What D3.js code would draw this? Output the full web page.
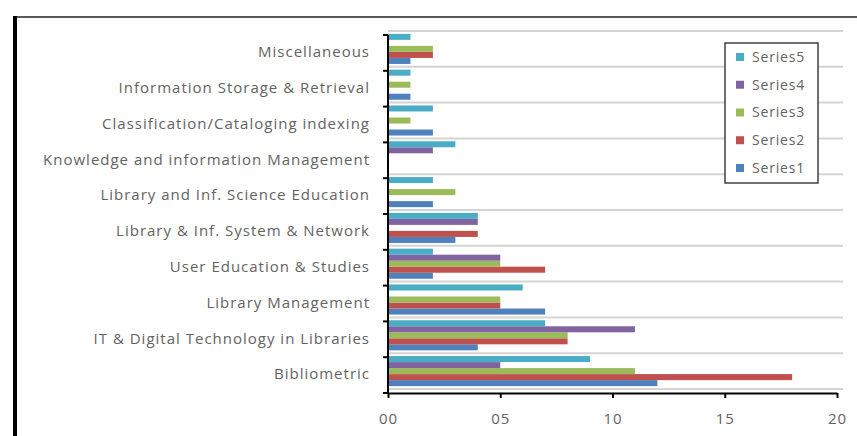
<!DOCTYPE html>
<html><head><meta charset="utf-8">
<script src="https://cdn.jsdelivr.net/npm/d3@7"></script>
<style>
html,body{margin:0;padding:0;background:#fff;}
svg{display:block;}
text{font-family:"Open Sans",sans-serif;}
</style></head>
<body>
<svg id="chart" width="857" height="436"></svg>
<script>
// Categories listed bottom to top
const categories = [
  "Bibliometric",
  "IT & Digital Technology in Libraries",
  "Library Management",
  "User Education & Studies",
  "Library & Inf. System & Network",
  "Library and Inf. Science Education",
  "Knowledge and information Management",
  "Classification/Cataloging indexing",
  "Information Storage & Retrieval",
  "Miscellaneous"
];
const seriesNames = ["Series1","Series2","Series3","Series4","Series5"];
const series1 = [12, 4, 7, 2, 3, 2, 0, 2, 1, 1];
const series2 = [18, 8, 5, 7, 4, 0, 0, 0, 0, 2];
const series3 = [11, 8, 5, 5, 0, 3, 0, 1, 1, 2];
const series4 = [5, 11, 0, 5, 4, 0, 2, 0, 0, 0];
const series5 = [9, 7, 6, 2, 4, 2, 3, 2, 1, 1];
const seriesColors = ["#4F81BD","#C0504D","#9BBB59","#8064A2","#4BACC6"];
const xTicks = [0, 5, 10, 15, 20];
const xTickLabels = ["00","05","10","15","20"];

(function(){
const allSeries = [series1, series2, series3, series4, series5];
const svg = d3.select("#chart");

// outer frame
svg.append("line").attr("x1",14).attr("x2",857).attr("y1",17).attr("y2",17)
  .attr("stroke","#5a5a5a").attr("stroke-width",2);
svg.append("line").attr("x1",15).attr("x2",15).attr("y1",16).attr("y2",436)
  .attr("stroke","#000").attr("stroke-width",4);

const pLeft = 388, pRight = 837, pTop = 31, pBottom = 389, axisOff = 4;

const x = d3.scaleLinear().domain([0,20]).range([pLeft,pRight]);
const y = d3.scaleBand().domain(categories).range([pBottom, pTop]).paddingInner(0.16).paddingOuter(0.08);
const ys = d3.scaleBand().domain(seriesNames.slice().reverse()).range([0, y.bandwidth()]);

const step = y.step();
const bounds = d3.range(categories.length + 1).map(i => pTop + i*step);
svg.append("g").selectAll("line").data(bounds).join("line")
  .attr("x1",pLeft).attr("x2",843).attr("y1",d=>d).attr("y2",d=>d)
  .attr("stroke","#d4d4d4").attr("stroke-width",2);

const barsG = svg.append("g");
allSeries.forEach((vals, si) => {
  barsG.append("g").selectAll("rect").data(vals.map((v,i)=>({v, c:categories[i]}))).join("rect")
    .attr("x", x(0))
    .attr("y", d => y(d.c) + ys(seriesNames[si]))
    .attr("width", d => x(d.v) - x(0))
    .attr("height", ys.bandwidth())
    .attr("fill", seriesColors[si]);
});

const yAxisG = svg.append("g").attr("transform",`translate(${pLeft},${axisOff})`);
yAxisG.append("line").attr("x1",0).attr("x2",0).attr("y1",pTop).attr("y2",pBottom)
  .attr("stroke","#000").attr("stroke-width",2);
yAxisG.selectAll(".tk").data(bounds).join("line")
  .attr("x1",-5).attr("x2",0).attr("y1",d=>d).attr("y2",d=>d)
  .attr("stroke","#000").attr("stroke-width",2);
svg.append("g").selectAll("text").data(categories).join("text")
  .attr("x", 370)
  .attr("y", d => y(d) + y.bandwidth()/2 + 3)
  .attr("dy","0.35em")
  .attr("text-anchor","end")
  .attr("font-size","15px")
  .attr("letter-spacing","1px")
  .attr("fill","#636363")
  .text(d=>d);

const xAxis = d3.axisBottom(x).tickValues(xTicks).tickFormat((d,i)=>xTickLabels[i]).tickSize(5).tickSizeOuter(0);
const xg = svg.append("g").attr("transform",`translate(0,${pBottom+axisOff})`).call(xAxis);
xg.select(".domain").attr("stroke","#000").attr("stroke-width",2);
xg.selectAll(".tick line").attr("stroke","#000").attr("stroke-width",2);
xg.selectAll(".tick text").attr("font-size","15px").attr("letter-spacing","1px")
  .attr("fill","#636363").attr("dy","1.55em").attr("font-family","\"Open Sans\",sans-serif");

const lg = svg.append("g");
lg.append("rect").attr("x",725).attr("y",43).attr("width",93).attr("height",140)
  .attr("fill","#fff").attr("stroke","#404040").attr("stroke-width",1.5);
const legendOrder = seriesNames.slice().reverse();
const ly = d3.scalePoint().domain(legendOrder).range([57, 168]);
legendOrder.forEach(n => {
  const si = seriesNames.indexOf(n);
  lg.append("rect").attr("x",736).attr("y",ly(n)-4).attr("width",8).attr("height",8)
    .attr("fill",seriesColors[si]);
  lg.append("text").attr("x",752).attr("y",ly(n)).attr("dy","0.35em")
    .attr("font-size","14px").attr("letter-spacing","0.8px").attr("fill","#636363").text(n);
});
})();
</script>
</body></html>
